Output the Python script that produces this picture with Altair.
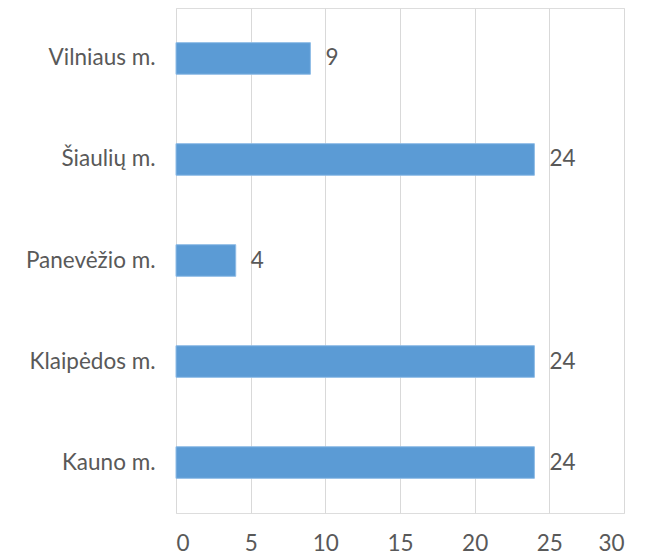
import altair as alt
import pandas as pd

categories = ["Vilniaus m.", "Šiaulių m.", "Panevėžio m.", "Klaipėdos m.", "Kauno m."]
values = [9, 24, 4, 24, 24]

df = pd.DataFrame({"city": categories, "value": values})

FONT = "Lato"
TXT = "#595959"
FS = 22.5

y_enc = alt.Y(
    "city:N",
    sort=categories,
    title=None,
    scale=alt.Scale(paddingInner=0.687, paddingOuter=0.343),
    axis=alt.Axis(domain=False, ticks=False, labelPadding=21, labelFontSize=FS,
                  labelFont=FONT, labelColor=TXT, grid=False),
)
x_enc = alt.X(
    "value:Q",
    title=None,
    scale=alt.Scale(domain=[0, 30], nice=False),
    axis=alt.Axis(values=[0, 5, 10, 15, 20, 25, 30], domain=False, ticks=False,
                  labelPadding=19, labelFontSize=FS, labelFont=FONT, labelColor=TXT,
                  grid=True, gridColor="#d9d9d9", gridWidth=1),
)

bars = alt.Chart(df).mark_bar(color="#5B9BD5", stroke="#8fbce6", strokeWidth=1).encode(
    x=x_enc, y=y_enc
)
labels = alt.Chart(df).mark_text(
    align="left", baseline="middle", dx=15, fontSize=FS, font=FONT, color=TXT
).encode(x="value:Q", y=alt.Y("city:N", sort=categories), text="value:Q")

chart = (
    (bars + labels)
    .properties(width=448, height=505,
                autosize=alt.AutoSizeParams(type="none"),
                padding={"left": 168, "top": 0, "right": 29, "bottom": 44})
    .configure_view(stroke=None)
    .configure(background="white")
)

chart.save("out.html", embed_options={"renderer": "svg", "actions": False})
